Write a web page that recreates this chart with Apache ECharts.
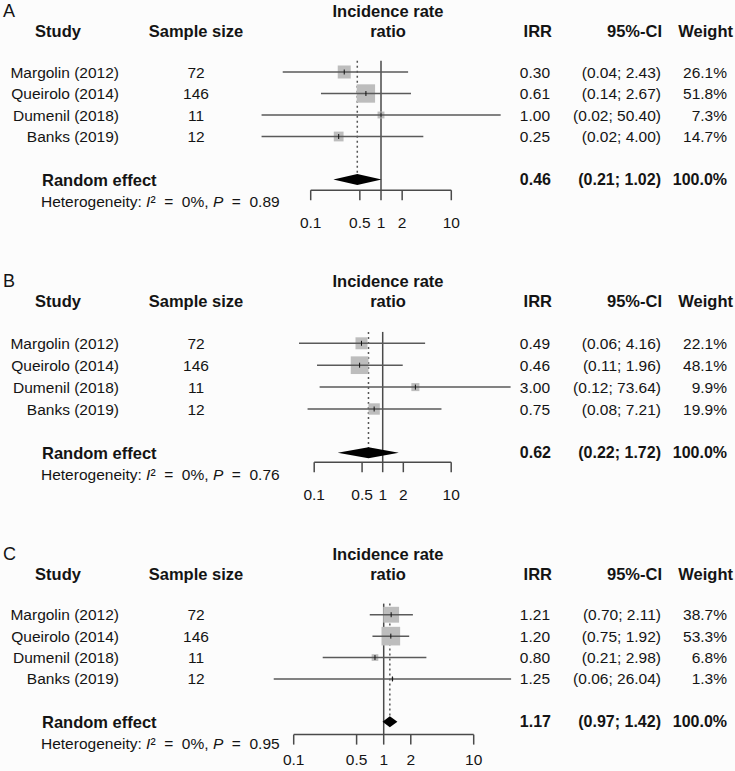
<!DOCTYPE html>
<html><head><meta charset="utf-8">
<script src="https://cdn.jsdelivr.net/npm/echarts@6/dist/echarts.min.js"></script>
<style>html,body{margin:0;padding:0;background:#fcfcfc}#c{width:735px;height:771px}</style>
</head><body><div id="c"></div><script>
// ---------- data ----------
const panelLabels = ['A', 'B', 'C'];
const studies = ['Margolin (2012)', 'Queirolo (2014)', 'Dumenil (2018)', 'Banks (2019)'];
const sampleSizes = [72, 146, 11, 12];

const irrA = [0.30, 0.61, 1.00, 0.25];
const lowerA = [0.04, 0.14, 0.02, 0.02];
const upperA = [2.43, 2.67, 50.40, 4.00];
const weightA = [26.1, 51.8, 7.3, 14.7];
const summaryA = [0.46, 0.21, 1.02];
const hetA = ['0%', '0.89'];

const irrB = [0.49, 0.46, 3.00, 0.75];
const lowerB = [0.06, 0.11, 0.12, 0.08];
const upperB = [4.16, 1.96, 73.64, 7.21];
const weightB = [22.1, 48.1, 9.9, 19.9];
const summaryB = [0.62, 0.22, 1.72];
const hetB = ['0%', '0.76'];

const irrC = [1.21, 1.20, 0.80, 1.25];
const lowerC = [0.70, 0.75, 0.21, 0.06];
const upperC = [2.11, 1.92, 2.98, 26.04];
const weightC = [38.7, 53.3, 6.8, 1.3];
const summaryC = [1.17, 0.97, 1.42];
const hetC = ['0%', '0.95'];

const tickValues = [0.1, 0.5, 1, 2, 10];
const tickLabels = ['0.1', '0.5', '1', '2', '10'];
const headerTexts = ['Study', 'Sample size', 'Incidence rate', 'ratio', 'IRR', '95%-CI', 'Weight'];
const summaryLabel = 'Random effect';
const summaryWeight = '100.0%';

// ---------- layout (pixels) ----------
const FONT = '"Liberation Sans", Arial, Helvetica, sans-serif';
const geom = [
  {one: 381.0, dec: 70.3, row0: 72.0, sp: 21.5, axisRow: 5.5, labelRow: 7.0},
  {one: 382.7, dec: 68.5, row0: 343.3, sp: 21.9, axisRow: 5.43, labelRow: 6.9},
  {one: 383.7, dec: 90.0, row0: 615.7, sp: 21.7, axisRow: 5.6, labelRow: 6.75}
];
const Y_MIN = -3.3, Y_MAX = 7.3;
const TITLE_ROW = -2.85, HEADER_ROW = -1.92, SUM_ROW = 5, HET_ROW = 6.0, TOP_ROW = -0.52;
const SQ_K = 2.55;

const panels = [
  {irr: irrA, lower: lowerA, upper: upperA, weight: weightA, summary: summaryA, het: hetA},
  {irr: irrB, lower: lowerB, upper: upperB, weight: weightB, summary: summaryB, het: hetB},
  {irr: irrC, lower: lowerC, upper: upperC, weight: weightC, summary: summaryC, het: hetC}
];

function txt(x, y, s, opt) {
  opt = opt || {};
  const align = opt.align || 'left';
  return {type: 'text', x: x, y: y, silent: true, style: {
    text: s, fontSize: opt.size || 15.5, fontFamily: FONT, fontWeight: opt.bold ? 'bold' : 'normal',
    fill: '#141414', align: align, textAlign: align, verticalAlign: 'middle', textVerticalAlign: 'middle'}};
}
function f2(v) { return v.toFixed(2); }
function ci(lo, hi) { return '(' + f2(lo) + '; ' + f2(hi) + ')'; }

const grids = [], xAxes = [], yAxes = [], series = [];
panels.forEach(function (p, k) {
  const g = geom[k];
  grids.push({left: g.one - 2 * g.dec, width: 4 * g.dec, top: g.row0 + Y_MIN * g.sp, height: (Y_MAX - Y_MIN) * g.sp, containLabel: false});
  xAxes.push({type: 'log', logBase: 10, min: 0.01, max: 100, gridIndex: k, show: false});
  yAxes.push({type: 'value', inverse: true, min: Y_MIN, max: Y_MAX, gridIndex: k, show: false});
  const base = {type: 'custom', xAxisIndex: k, yAxisIndex: k, animation: false, silent: true, clip: false};

  // headers
  series.push(Object.assign({}, base, {
    data: [[1, TITLE_ROW]], encode: {x: 0, y: 1},
    renderItem: function (params, api) {
      const yT = api.coord([1, TITLE_ROW])[1], yH = api.coord([1, HEADER_ROW])[1];
      return {type: 'group', children: [
        txt(3, yT, panelLabels[k], {size: 18}),
        txt(388, yT, headerTexts[2], {bold: true, size: 16.5, align: 'center'}),
        txt(388, yH, headerTexts[3], {bold: true, size: 16.5, align: 'center'}),
        txt(58, yH, headerTexts[0], {bold: true, size: 16.5, align: 'center'}),
        txt(196, yH, headerTexts[1], {bold: true, size: 16.5, align: 'center'}),
        txt(552, yH, headerTexts[4], {bold: true, size: 16.5, align: 'right'}),
        txt(662, yH, headerTexts[5], {bold: true, size: 16.5, align: 'right'}),
        txt(733, yH, headerTexts[6], {bold: true, size: 16.5, align: 'right'})
      ]};
    }
  }));

  // study table text
  series.push(Object.assign({}, base, {
    data: studies.map(function (s, i) { return [1, i]; }), encode: {x: 0, y: 1},
    renderItem: function (params, api) {
      const i = params.dataIndex;
      const y = api.coord([1, api.value(1)])[1];
      return {type: 'group', children: [
        txt(119, y, studies[i], {align: 'right'}),
        txt(196, y, String(sampleSizes[i]), {align: 'center'}),
        txt(550, y, f2(p.irr[i]), {align: 'right'}),
        txt(661, y, ci(p.lower[i], p.upper[i]), {align: 'right'}),
        txt(727, y, p.weight[i].toFixed(1) + '%', {align: 'right'})
      ]};
    }
  }));

  // summary text + heterogeneity
  series.push(Object.assign({}, base, {
    data: [[1, SUM_ROW]], encode: {x: 0, y: 1},
    renderItem: function (params, api) {
      const y = api.coord([1, SUM_ROW])[1], yh = api.coord([1, HET_ROW])[1];
      const s = p.summary;
      return {type: 'group', children: [
        txt(42, y, summaryLabel, {bold: true, size: 16.5}),
        txt(551, y, f2(s[0]), {bold: true, size: 16, align: 'right'}),
        txt(661, y, ci(s[1], s[2]), {bold: true, size: 16, align: 'right'}),
        txt(727, y, summaryWeight, {bold: true, size: 16, align: 'right'}),
        {type: 'text', x: 41, y: yh, silent: true, style: {
          text: '{n|Heterogeneity: }{i|I}{n|²  =  ' + p.het[0] + ', }{i|P}{n|  =  ' + p.het[1] + '}',
          fontSize: 15.5, fontFamily: FONT, fill: '#141414', align: 'left', verticalAlign: 'middle',
          textAlign: 'left', textVerticalAlign: 'middle',
          rich: {n: {fontSize: 15.5, fontFamily: FONT, fill: '#141414'},
                 i: {fontSize: 15.5, fontFamily: FONT, fontStyle: 'italic', fill: '#141414'}}}}
      ]};
    }
  }));

  // reference line at 1
  series.push(Object.assign({}, base, {
    z: 1, data: [[1, TOP_ROW, g.axisRow]], encode: {x: 0, y: [1, 2]},
    renderItem: function (params, api) {
      const a = api.coord([api.value(0), api.value(1)]), b = api.coord([api.value(0), api.value(2)]);
      return {type: 'line', shape: {x1: a[0], y1: a[1], x2: b[0], y2: b[1]}, style: {stroke: '#4a4a4a', lineWidth: 1.5}};
    }
  }));
  // dotted summary line
  series.push(Object.assign({}, base, {
    z: 1, data: [[p.summary[0], TOP_ROW, SUM_ROW]], encode: {x: 0, y: [1, 2]},
    renderItem: function (params, api) {
      const a = api.coord([api.value(0), api.value(1)]), b = api.coord([api.value(0), api.value(2)]);
      return {type: 'line', shape: {x1: a[0], y1: a[1], x2: b[0], y2: b[1]}, style: {stroke: '#555', lineWidth: 1.5, lineDash: [2, 3]}};
    }
  }));
  // diamond
  series.push(Object.assign({}, base, {
    z: 3, data: [[p.summary[0], p.summary[1], p.summary[2], SUM_ROW]], encode: {x: [0, 1, 2], y: 3},
    renderItem: function (params, api) {
      const r = api.value(3);
      const c = api.coord([api.value(0), r]), lo = api.coord([api.value(1), r]), hi = api.coord([api.value(2), r]);
      const h = 5.5;
      return {type: 'polygon', shape: {points: [[lo[0], c[1]], [c[0], c[1] - h], [hi[0], c[1]], [c[0], c[1] + h]]}, style: {fill: '#000'}};
    }
  }));
  // study marks
  series.push(Object.assign({}, base, {
    z: 3, data: studies.map(function (s, i) { return [p.irr[i], p.lower[i], p.upper[i], p.weight[i], i]; }),
    encode: {x: [0, 1, 2], y: 4},
    renderItem: function (params, api) {
      const row = api.value(4);
      const e = api.coord([api.value(0), row]), lo = api.coord([api.value(1), row]), hi = api.coord([api.value(2), row]);
      const s = SQ_K * Math.sqrt(api.value(3));
      return {type: 'group', children: [
        {type: 'rect', shape: {x: e[0] - s / 2, y: e[1] - s / 2, width: s, height: s}, style: {fill: '#bdbdbd'}},
        {type: 'line', shape: {x1: lo[0], y1: lo[1], x2: hi[0], y2: hi[1]}, style: {stroke: '#5a5a5a', lineWidth: 1.5}},
        {type: 'line', shape: {x1: e[0], y1: e[1] - 2.5, x2: e[0], y2: e[1] + 2.5}, style: {stroke: '#111', lineWidth: 1}}
      ]};
    }
  }));
  // axis line
  series.push(Object.assign({}, base, {
    z: 2, data: [[tickValues[0], tickValues[tickValues.length - 1], g.axisRow]], encode: {x: [0, 1], y: 2},
    renderItem: function (params, api) {
      const a = api.coord([api.value(0), api.value(2)]), b = api.coord([api.value(1), api.value(2)]);
      return {type: 'line', shape: {x1: a[0], y1: a[1], x2: b[0], y2: b[1]}, style: {stroke: '#4a4a4a', lineWidth: 1.5}};
    }
  }));
  // ticks and tick labels
  series.push(Object.assign({}, base, {
    z: 2, data: tickValues.map(function (v) { return [v, g.axisRow, g.labelRow]; }), encode: {x: 0, y: [1, 2]},
    renderItem: function (params, api) {
      const a = api.coord([api.value(0), api.value(1)]);
      const l = api.coord([api.value(0), api.value(2)]);
      return {type: 'group', children: [
        {type: 'line', shape: {x1: a[0], y1: a[1], x2: a[0], y2: a[1] + 10}, style: {stroke: '#4a4a4a', lineWidth: 1.5}},
        txt(l[0], l[1], tickLabels[params.dataIndex], {align: 'center'})
      ]};
    }
  }));
});

const chart = echarts.init(document.getElementById('c'), null, {renderer: 'svg', width: 735, height: 771});
chart.setOption({
  backgroundColor: '#fcfcfc',
  animation: false,
  grid: grids, xAxis: xAxes, yAxis: yAxes, series: series
});
</script></body></html>
